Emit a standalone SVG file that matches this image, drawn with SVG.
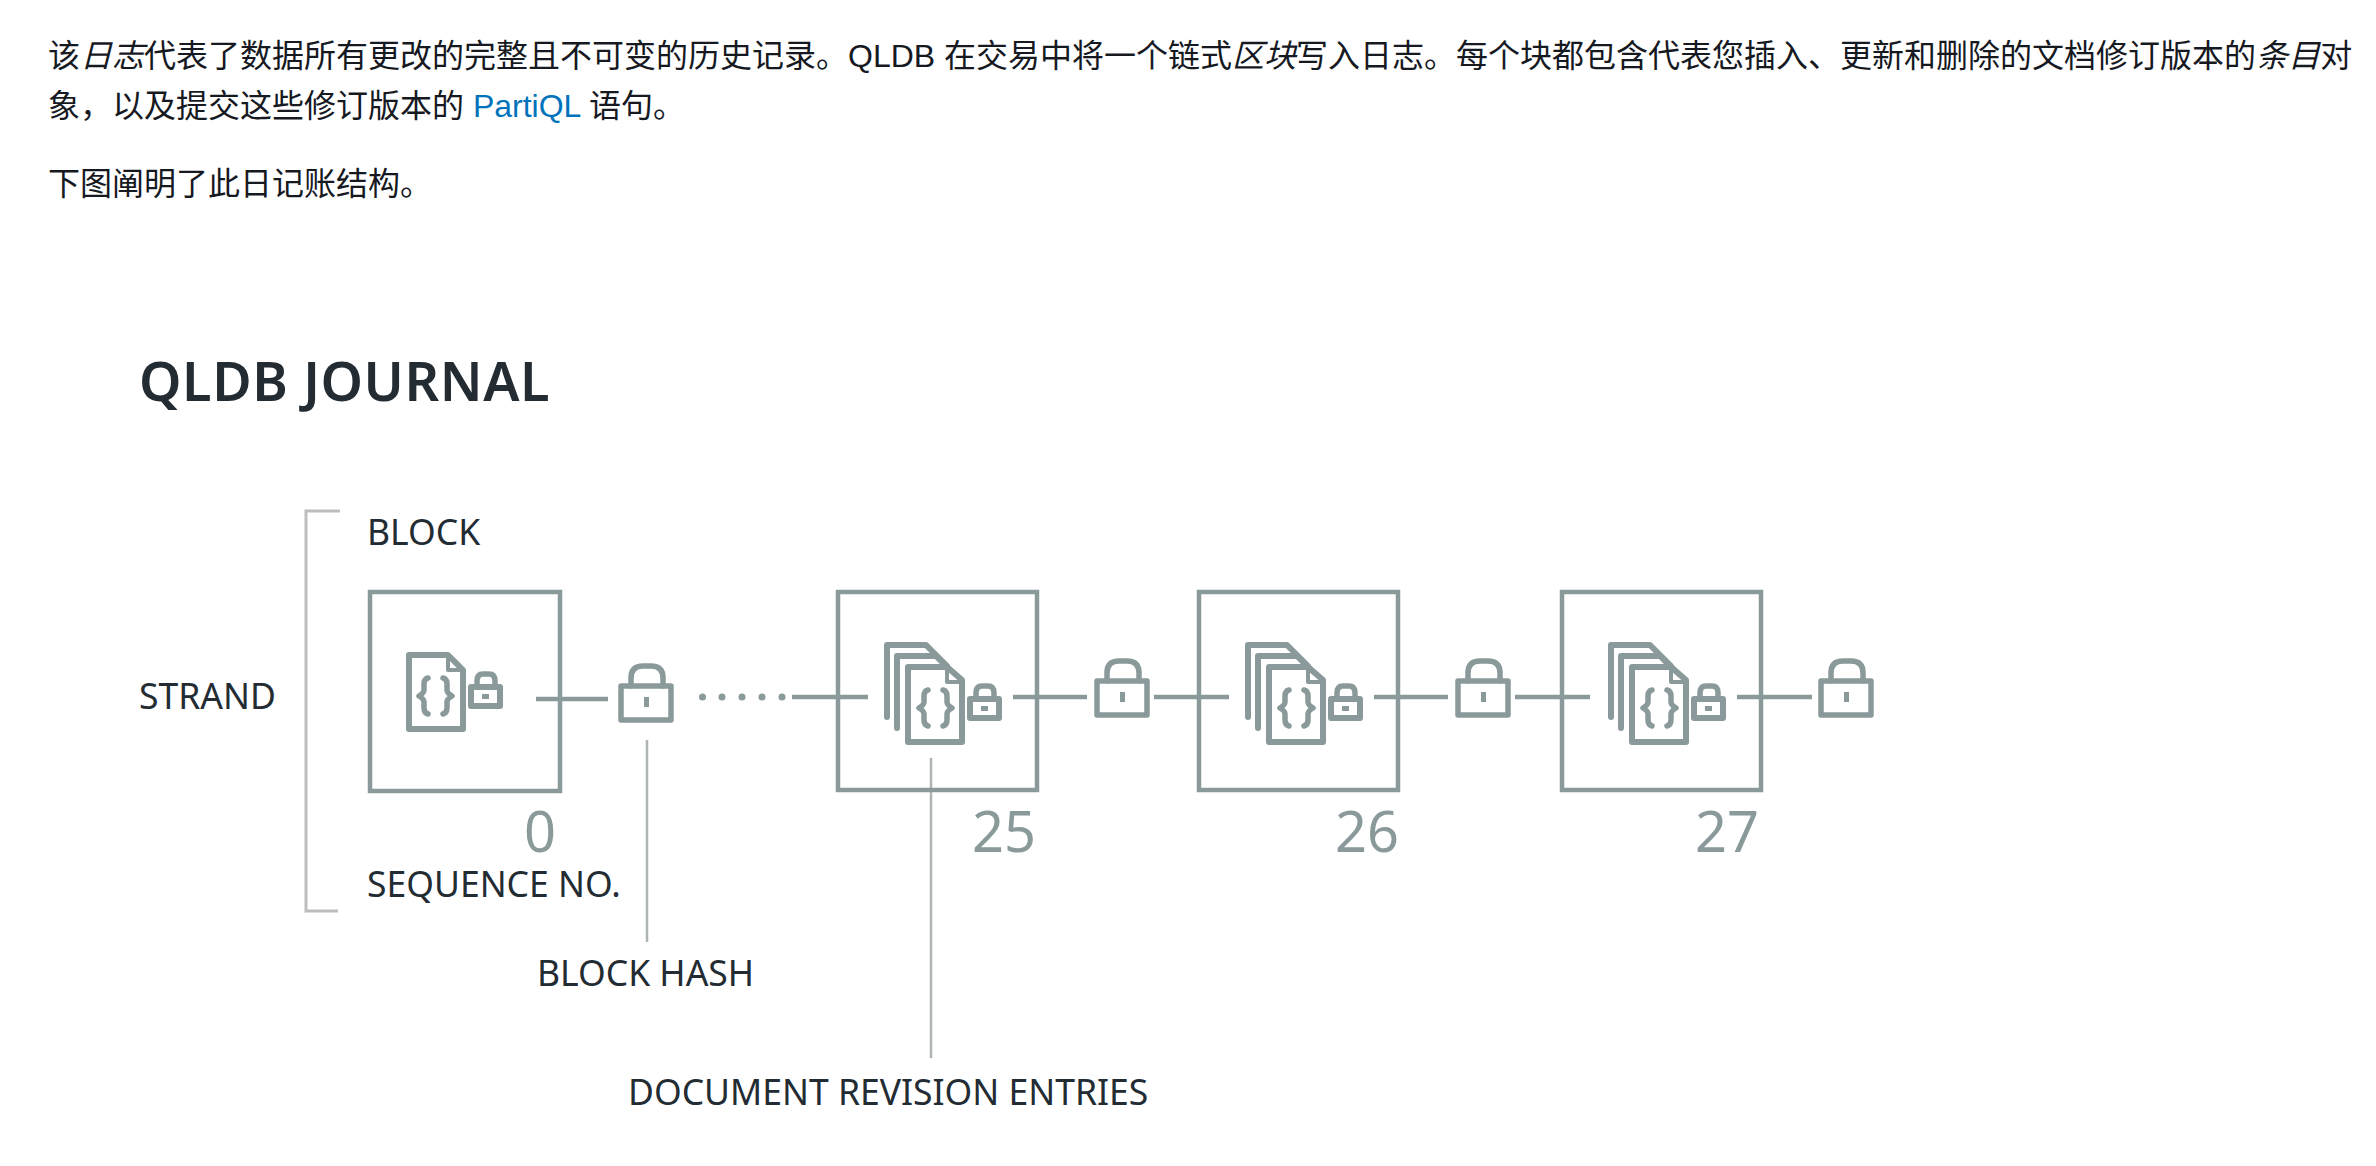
<svg xmlns="http://www.w3.org/2000/svg" width="2376" height="1166" viewBox="0 0 2376 1166">
<style>
.p{font-family:"Liberation Sans","Noto Sans CJK SC",sans-serif;font-size:32px;fill:#16191f}
.i{font-style:italic}
.a{fill:#0073bb}
.l{font-family:"Noto Sans","Noto Sans CJK SC",sans-serif;font-size:35.500px;fill:#232b33}
.n{font-family:"Noto Sans",sans-serif;font-size:56px;fill:#8a9a9a}
.t{font-family:"Noto Sans",sans-serif;font-size:54px;font-weight:600;fill:#232b33;letter-spacing:.6px}
.s{fill:none;stroke:#8a9a9a;stroke-width:5.500;stroke-linejoin:round;stroke-linecap:round}
.b{fill:none;stroke:#8a9a9a;stroke-width:4.500}
.c{fill:none;stroke:#8a9a9a;stroke-width:4.500}
.g{fill:none;stroke:#aeb3b3;stroke-width:2.500}
.d{fill:#8a9a9a}
</style>
<defs>
<g id="lock"><rect class="s" x="2" y="22" width="50" height="34"/><path class="s" d="M12 22V14Q12 2 24 2H32Q44 2 44 14V22"/><rect class="d" x="25" y="33" width="5" height="10"/></g>
<g id="minilock"><rect class="s" x="2" y="15" width="29" height="19" style="stroke-width:6"/><path class="s" d="M8 15V9Q8 2 14 2H20Q26 2 26 9V15"/><rect class="d" x="13" y="22" width="7" height="5"/></g>
<g id="brace"><path class="s" d="M9 0Q5 1 5 6V12Q5 15 0 18Q5 21 5 24V30Q5 35 9 36M24 0Q28 1 28 6V12Q28 15 33 18Q28 21 28 24V30Q28 35 24 36"/></g>
<g id="doc"><path class="s" d="M2 2H41L56 17V76H2Z" style="stroke-width:6"/><path class="s" d="M41 2V17H56" style="stroke-width:4"/><use href="#brace" x="12" y="25"/></g>
<g id="docs"><path class="s" d="M2 74V2H41L62 23" style="stroke-width:6"/><path class="s" d="M12 85V13H51L72 34" style="stroke-width:6"/><path class="s" d="M23 24H62L77 37V99H23Z" style="fill:#fff;stroke-width:6"/><path class="s" d="M62 24V39H77" style="stroke-width:4"/><use href="#brace" x="34" y="47"/></g>
</defs>

<g id="intro">
<text class="p" x="48" y="67">该<tspan class="i">日志</tspan>代表了数据所有更改的完整且不可变的历史记录。QLDB 在交易中将一个链式<tspan class="i">区块</tspan>写入日志。每个块都包含代表您插入、更新和删除的文档修订版本的<tspan class="i">条目</tspan>对</text>
<text class="p" x="48" y="117">象，以及提交这些修订版本的 <tspan class="a">PartiQL</tspan> 语句。</text>
<text class="p" x="48" y="195">下图阐明了此日记账结构。</text>
</g>

<text class="t" x="139" y="401">QLDB JOURNAL</text>

<g id="connectors">
<path class="c" d="M536 699H608M792 697H868M1013 697H1087M1154 697H1229M1374 697H1448M1515 697H1590M1737 697H1812"/>
<path class="g" d="M647 740V942M931 758V1058"/>
</g>

<g id="strand">
<path fill="none" stroke="#bdbdbd" stroke-width="3" d="M340 511H306V911H338"/>
<text class="l" x="139" y="709">STRAND</text>
<text class="l" x="367" y="545">BLOCK</text>
<text class="l" x="367" y="897">SEQUENCE NO.</text>
</g>

<g id="block-0">
<rect class="b" x="370" y="592" width="190" height="199"/>
<use href="#doc" x="407" y="653"/>
<use href="#minilock" x="469" y="672"/>
<text class="n" x="524" y="852">0</text>
</g>
<g id="hash-0"><use href="#lock" x="619" y="664"/><text class="l" x="537" y="986">BLOCK HASH</text></g>
<g id="gap">
<circle class="d" cx="702.500" cy="697" r="3.500"/><circle class="d" cx="722" cy="697" r="3.500"/><circle class="d" cx="742" cy="697" r="3.500"/><circle class="d" cx="762" cy="697" r="3.500"/><circle class="d" cx="782" cy="697" r="3.500"/>
</g>

<g id="block-25">
<rect class="b" x="838" y="592" width="199" height="198"/>
<use href="#docs" x="885" y="643"/>
<use href="#minilock" x="968" y="684"/>
<text class="n" x="972" y="852">25</text>
<text class="l" x="628" y="1105">DOCUMENT REVISION ENTRIES</text>
</g>
<g id="hash-25"><use href="#lock" x="1095" y="659"/></g>

<g id="block-26">
<rect class="b" x="1199" y="592" width="199" height="198"/>
<use href="#docs" x="1246" y="643"/>
<use href="#minilock" x="1329" y="684"/>
<text class="n" x="1335" y="852">26</text>
</g>
<g id="hash-26"><use href="#lock" x="1456" y="659"/></g>

<g id="block-27">
<rect class="b" x="1562" y="592" width="199" height="198"/>
<use href="#docs" x="1609" y="643"/>
<use href="#minilock" x="1692" y="684"/>
<text class="n" x="1695" y="852">27</text>
</g>
<g id="hash-27"><use href="#lock" x="1819" y="659"/></g>
</svg>
